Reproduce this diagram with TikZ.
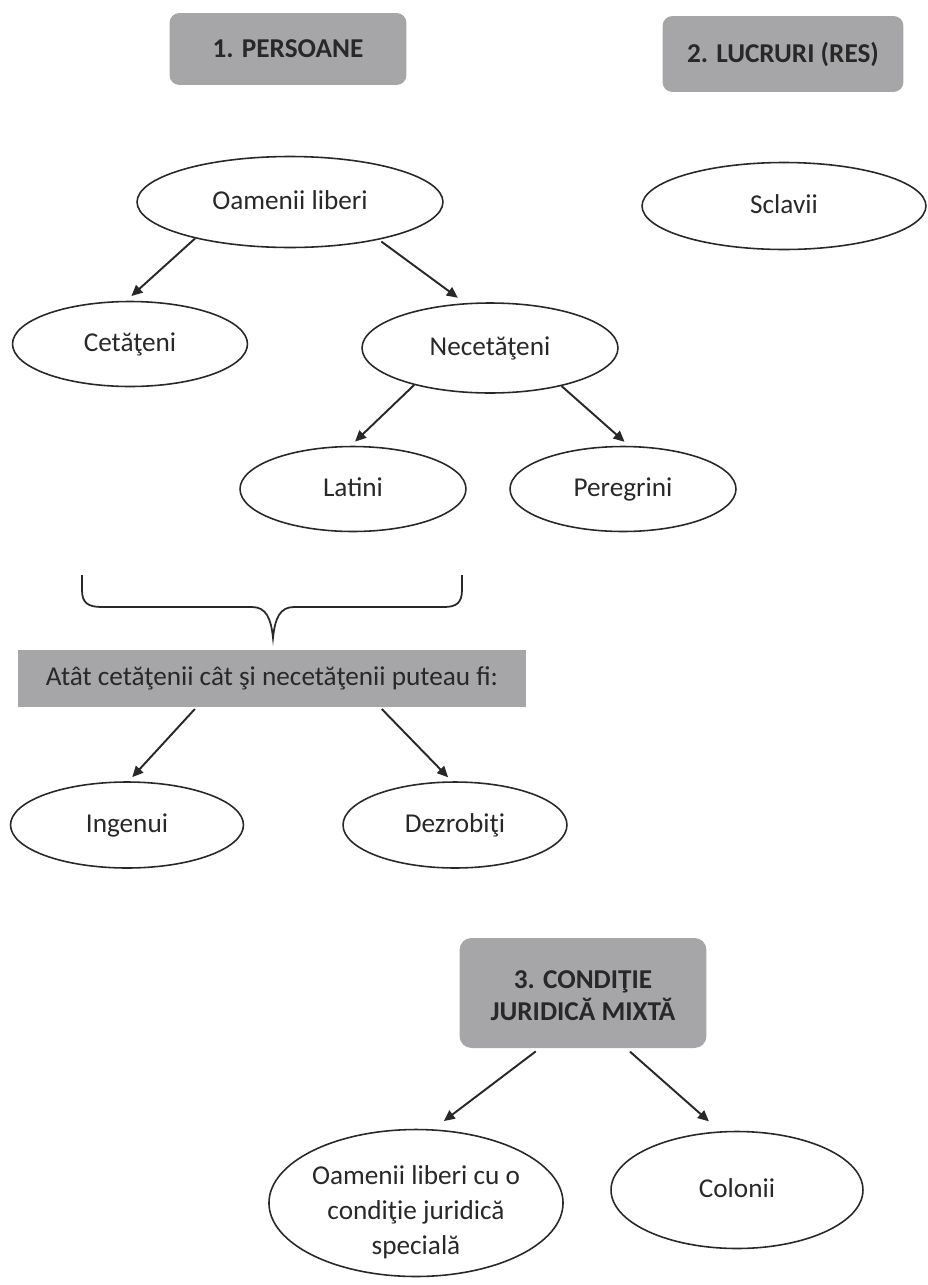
\documentclass[tikz,border=0pt]{standalone}
\usepackage{fontspec}
\setmainfont{Carlito}
\usetikzlibrary{arrows.meta,shapes.geometric}
\definecolor{boxgray}{RGB}{166,166,168}
\definecolor{ink}{RGB}{40,40,40}
\newcommand{\txtsize}{\fontsize{15.5pt}{19pt}\selectfont}
% lower a block of lines inside its node
\newcommand{\lowered}[2]{\raisebox{-#1}[\height][\depth]{\begin{tabular}{@{}c@{}}#2\end{tabular}}}
\tikzset{
	titlebox/.style={fill=boxgray, rounded corners=0.2cm, font=\txtsize\bfseries, text=ink, inner sep=0pt, text height=1em, text depth=0pt},
	oval/.style={ellipse, draw=ink, line width=0.9pt, text=ink, inner sep=0pt, text height=2ex, text depth=0.2ex},
	arr/.style={draw=ink, line width=1.1pt, -{Triangle[length=0.22cm,width=0.2cm]}},
}
\begin{document}
\begin{tikzpicture}[x=0.02cm, y=-0.02cm, font=\txtsize]
\useasboundingbox (0,0) rectangle (927,1285);

%titles
	\node[titlebox, minimum width=4.74cm, minimum height=1.44cm] (pers) at (288,49) {1. PERSOANE};
	\node[titlebox, minimum width=4.82cm, minimum height=1.52cm] (lucr) at (783,54) {2. LUCRURI (RES)};
	\node[titlebox, text height=, text depth=, rounded corners=0.24cm, minimum width=4.94cm, minimum height=2.2cm] (cond) at (583,993) {\lowered{0.1cm}{3. CONDIŢIE\\[-1pt]JURIDICĂ MIXTĂ}};

%ovals
	\node[oval, minimum width=6.12cm, minimum height=1.82cm] (oameni) at (290,202) {Oamenii liberi};
	\node[oval, minimum width=5.68cm, minimum height=1.74cm] (sclavii) at (784,206) {Sclavii};
	\node[oval, minimum width=4.7cm, minimum height=1.7cm] (cetateni) at (130,344) {Cetăţeni};
	\node[oval, minimum width=5.12cm, minimum height=1.8cm] (necetateni) at (490,348) {Necetăţeni};
	\node[oval, minimum width=4.52cm, minimum height=1.7cm] (latini) at (353,489) {Latini};
	\node[oval, minimum width=4.52cm, minimum height=1.7cm] (peregrini) at (623,489) {Peregrini};
	\node[oval, minimum width=4.66cm, minimum height=1.72cm] (ingenui) at (127,825) {Ingenui};
	\node[oval, minimum width=4.48cm, minimum height=1.72cm] (dezrobiti) at (455,825) {Dezrobiţi};
	\node[oval, text height=, text depth=, minimum width=5.74cm, minimum height=2.94cm] (special) at (416,1203) {\lowered{0.2cm}{Oamenii liberi cu o\\[1pt]condiţie juridică\\[1pt]specială}};
	\node[oval, minimum width=5.04cm, minimum height=2.34cm] (colonii) at (737,1190) {Colonii};

%brace + bar
	\draw[ink, line width=1pt] (82,575) -- (82,590) .. controls (82,603) and (88,607) .. (102,607) -- (252,607)
		.. controls (266,607) and (271,618) .. (273,638) .. controls (275,618) and (280,607) .. (294,607)
		-- (444,607) .. controls (456,607) and (462,603) .. (462,590) -- (462,575);
	\node[fill=boxgray, text=ink, inner sep=0pt, text height=2ex, text depth=0.2ex, minimum width=10.18cm, minimum height=1.14cm] (atat) at (272,678) {Atât cetăţenii cât şi necetăţenii puteau fi:};

%arrows
	\foreach \a/\b/\s/\t in {oameni.201/cetateni.95/0cm/0.14cm, oameni.337/necetateni.119/0.06cm/0.18cm,
		necetateni.206/latini.93/0cm/0.12cm, necetateni.332/peregrini.82/0cm/0.12cm,
		atat.201/ingenui.88/0.06cm/0.11cm, atat.345/dezrobiti.94/0.06cm/0.11cm,
		cond.232/special.77/0.1cm/0.27cm, cond.308/colonii.106/0.1cm/0.3cm}{
		\draw[arr, shorten <=\s, shorten >=\t] (\a) -- (\b);
	}

\end{tikzpicture}
\end{document}
